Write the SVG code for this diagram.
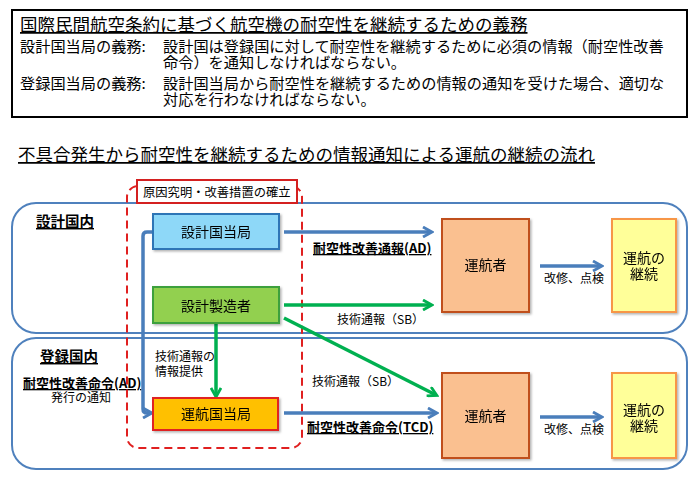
<svg xmlns="http://www.w3.org/2000/svg" width="698" height="482" viewBox="0 0 698 482">
<style>
text{font-family:"Noto Sans CJK JP","Noto Sans CJK SC",sans-serif;fill:#000}
.h{font-size:17.5px;text-decoration:underline}
.b{font-size:15.2px}
.lbl{font-size:12px}
.bl{font-size:13px;font-weight:bold;text-decoration:underline}
.nt{font-size:14px;text-anchor:middle}
.region{fill:none;stroke:#4F81BD;stroke-width:2}
.blue{fill:none;stroke:#4A7EBB;stroke-width:3.5}
.green{fill:none;stroke:#00B050;stroke-width:3.5}
</style>
<defs>
<marker id="ab" viewBox="0 0 12 12" refX="9" refY="6" markerWidth="12" markerHeight="12" markerUnits="userSpaceOnUse" orient="auto"><path d="M1,1 L10,6 L1,11" fill="none" stroke="#4A7EBB" stroke-width="2.8"/></marker>
<marker id="ag" viewBox="0 0 12 12" refX="9" refY="6" markerWidth="12" markerHeight="12" markerUnits="userSpaceOnUse" orient="auto"><path d="M1,1 L10,6 L1,11" fill="none" stroke="#00B050" stroke-width="2.8"/></marker>
<filter id="sh" x="-10%" y="-10%" width="130%" height="130%"><feDropShadow dx="1.5" dy="1.5" stdDeviation="1" flood-color="#000" flood-opacity="0.3"/></filter>
</defs>
<rect width="698" height="482" fill="#fff"/>

<g id="obligations">
<rect x="12" y="10" width="675" height="107" fill="#fff" stroke="#000" stroke-width="2"/>
<text class="h" x="20" y="31">国際民間航空条約に基づく航空機の耐空性を継続するための義務</text>
<text class="b" x="20" y="52">設計国当局の義務:</text>
<text class="b" x="163" y="52">設計国は登録国に対して耐空性を継続するために必須の情報（耐空性改善</text>
<text class="b" x="163" y="68">命令）を通知しなければならない。</text>
<text class="b" x="20" y="89">登録国当局の義務:</text>
<text class="b" x="163" y="89">設計国当局から耐空性を継続するための情報の通知を受けた場合、適切な</text>
<text class="b" x="163" y="105">対応を行わなければならない。</text>
</g>

<text class="h" x="18" y="161">不具合発生から耐空性を継続するための情報通知による運航の継続の流れ</text>

<g id="design-state">
<rect class="region" x="12" y="203" width="675" height="130" rx="24"/>
<text x="36" y="227" style="font-size:14.5px;font-weight:bold;text-decoration:underline">設計国内</text>
</g>
<g id="registry-state">
<rect class="region" x="12" y="338" width="675" height="131" rx="24"/>
<text x="40" y="362" style="font-size:14.5px;font-weight:bold;text-decoration:underline">登録国内</text>
<text class="bl" x="23" y="388">耐空性改善命令(AD)</text>
<text class="lbl" x="51" y="402">発行の通知</text>
</g>

<g id="investigation">
<rect x="127" y="186" width="175" height="262" rx="11" fill="none" stroke="#E02020" stroke-width="2" stroke-dasharray="8,5"/>
<rect x="137" y="180" width="160" height="23" fill="#fff" stroke="#D42020" stroke-width="2"/>
<text x="143" y="197" style="font-size:12.3px">原因究明・改善措置の確立</text>
</g>

<g id="connectors">
<path class="blue" d="M153,232 H147 Q143,232 143,236 V409 Q143,413 147,413 H151" marker-end="url(#ab)"/>
<path class="blue" d="M284,232 H431" marker-end="url(#ab)"/>
<path class="green" d="M284,305 H431" marker-end="url(#ag)"/>
<path class="green" d="M284,318 L436,395" marker-end="url(#ag)"/>
<path class="green" d="M216,324 V396" marker-end="url(#ag)"/>
<path class="blue" d="M284,413 H436" marker-end="url(#ab)"/>
<path class="blue" d="M540,266 H601" marker-end="url(#ab)"/>
<path class="blue" d="M540,417 H601" marker-end="url(#ab)"/>
<text class="bl" x="313" y="253">耐空性改善通報(AD)</text>
<text class="lbl" x="337" y="324">技術通報（SB）</text>
<text class="lbl" x="312" y="386">技術通報（SB）</text>
<text class="bl" x="307" y="432">耐空性改善命令(TCD)</text>
<text class="lbl" x="155" y="361">技術通報の</text>
<text class="lbl" x="155" y="376">情報提供</text>
<text class="lbl" x="544" y="283">改修、点検</text>
<text class="lbl" x="544" y="434">改修、点検</text>
</g>

<g id="design-authority" filter="url(#sh)">
<rect x="153" y="214" width="126" height="35" fill="#8ED8F8" stroke="#2E75B6" stroke-width="2"/>
<text class="nt" x="216" y="237">設計国当局</text>
</g>
<g id="manufacturer" filter="url(#sh)">
<rect x="153" y="287" width="126" height="36" fill="#92D050" stroke="#3CA03C" stroke-width="2"/>
<text class="nt" x="216" y="311">設計製造者</text>
</g>
<g id="operating-authority" filter="url(#sh)">
<rect x="153" y="398" width="125" height="32" fill="#FFC000" stroke="#E02020" stroke-width="2"/>
<text class="nt" x="216" y="419">運航国当局</text>
</g>
<g id="operator-1" filter="url(#sh)">
<rect x="442" y="219" width="87" height="93" fill="#FAC090" stroke="#C0501D" stroke-width="2"/>
<text class="nt" x="485.5" y="270">運航者</text>
</g>
<g id="continue-1" filter="url(#sh)">
<rect x="612" y="219" width="64" height="93" fill="#FFFF99" stroke="#F79646" stroke-width="2"/>
<text class="nt" x="644" y="263">運航の</text>
<text class="nt" x="644" y="279">継続</text>
</g>
<g id="operator-2" filter="url(#sh)">
<rect x="442" y="373" width="87" height="85" fill="#FAC090" stroke="#C0501D" stroke-width="2"/>
<text class="nt" x="485.5" y="421">運航者</text>
</g>
<g id="continue-2" filter="url(#sh)">
<rect x="612" y="373" width="64" height="85" fill="#FFFF99" stroke="#F79646" stroke-width="2"/>
<text class="nt" x="644" y="415">運航の</text>
<text class="nt" x="644" y="431">継続</text>
</g>
</svg>
